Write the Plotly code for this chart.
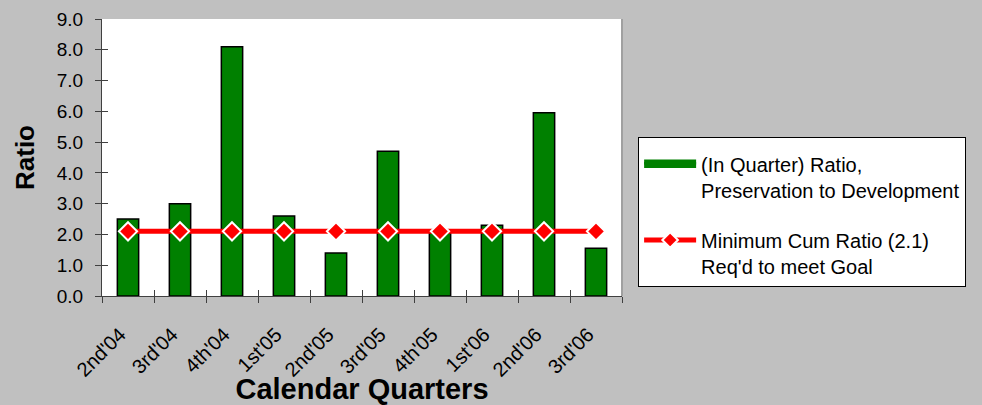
import plotly.graph_objects as go

quarters = ["2nd'04", "3rd'04", "4th'04", "1st'05", "2nd'05", "3rd'05",
            "4th'05", "1st'06", "2nd'06", "3rd'06"]
ratio_in_quarter = [2.5, 3.0, 8.1, 2.6, 1.4, 4.7, 2.05, 2.3, 5.95, 1.55]
min_cum_ratio = [2.1] * len(quarters)

y_ticks = [0, 1, 2, 3, 4, 5, 6, 7, 8, 9]
y_tick_text = [f"{v:.1f}" for v in y_ticks]

bar_name = "(In Quarter) Ratio,<br>Preservation to Development"
line_name = "Minimum Cum Ratio (2.1)<br>Req'd to meet Goal"

FONT = "Arial, Liberation Sans, sans-serif"
n = len(quarters)

fig = go.Figure()
fig.add_trace(go.Bar(
    x=quarters, y=ratio_in_quarter, name=bar_name,
    marker=dict(color="#008000", line=dict(color="black", width=1.5)),
    showlegend=False, legendgroup="a",
))
# legend proxy giving the wide green swatch of the reference legend
fig.add_trace(go.Scatter(
    x=[None], y=[None], name=bar_name, mode="lines", fill="toself",
    fillcolor="#008000", line=dict(color="#008000", width=5), legendgroup="a",
))
fig.add_trace(go.Scatter(
    x=quarters, y=min_cum_ratio, name=line_name, mode="lines+markers",
    line=dict(color="#FF0000", width=5),
    marker=dict(symbol="diamond", size=14, color="#FF0000",
                line=dict(color="white", width=2)),
    legendgroup="b",
))
# invisible helper trace so the overlay axes (cross ticks) render
fig.add_trace(go.Scatter(x=[-0.5, n - 0.5], y=[0, 9], xaxis="x2", yaxis="y2",
                         mode="markers", marker=dict(opacity=0),
                         showlegend=False, hoverinfo="skip"))

fig.update_layout(
    width=982, height=405,
    paper_bgcolor="#C0C0C0", plot_bgcolor="white",
    margin=dict(l=102, r=360, t=19, b=109, autoexpand=False),
    font=dict(family=FONT, size=18, color="black"),
    bargap=0.59,
    showlegend=True,
    legend=dict(
        x=1.031, y=0.574, xanchor="left", yanchor="top",
        bgcolor="white", bordercolor="black", borderwidth=1,
        font=dict(family=FONT, size=20, color="black"),
        itemwidth=52, valign="top", traceorder="grouped",
        tracegroupgap=21, itemsizing="constant",
        title=dict(text=".", font=dict(size=5, color="white")),
    ),
    xaxis=dict(
        type="category", categoryorder="array", categoryarray=quarters,
        range=[-0.5, n - 0.5],
        showline=True, linecolor="#404040", linewidth=1,
        ticks="outside", ticklen=6, tickcolor="#404040", tickson="boundaries",
        tickangle=-45, tickfont=dict(size=20),
        ticklabelstandoff=18, ticklabelshift=-8,
        showgrid=False, zeroline=False,
        title=dict(text="<b>Calendar Quarters</b>", font=dict(size=29), standoff=2),
    ),
    yaxis=dict(
        range=[0, 9], tickvals=y_ticks, ticktext=y_tick_text,
        showline=True, linecolor="#404040", linewidth=1,
        ticks="outside", ticklen=6, tickcolor="#404040",
        tickfont=dict(size=19), ticklabelstandoff=8,
        showgrid=False, zeroline=False,
        title=dict(text="<b>Ratio</b>", font=dict(size=26), standoff=14),
    ),
    xaxis2=dict(overlaying="x", anchor="y", range=[-0.5, n - 0.5],
                tickvals=[i - 0.5 for i in range(n + 1)], ticks="inside",
                ticklen=6, tickcolor="#404040", showticklabels=False,
                showline=False, showgrid=False, zeroline=False),
    yaxis2=dict(overlaying="y", anchor="x", range=[0, 9], tickvals=y_ticks,
                ticks="inside", ticklen=6, tickcolor="#404040",
                showticklabels=False, showline=False, showgrid=False,
                zeroline=False),
)

# subtle plot-area border on the right like the reference
fig.add_shape(type="line", xref="paper", yref="paper", x0=1, x1=1, y0=0, y1=1,
              line=dict(color="#A0A0A0", width=2), layer="below")

fig.write_html(
    "out.html",
    config={"displayModeBar": False},
    post_script="document.body.style.margin='0';document.body.style.overflow='hidden';",
)
